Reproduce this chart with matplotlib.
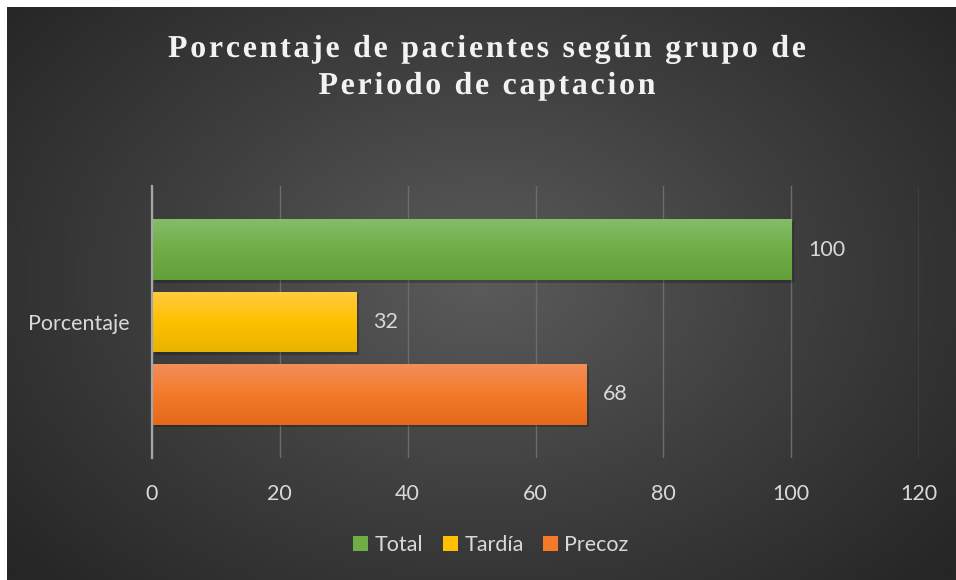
import numpy as np
import matplotlib
matplotlib.use("Agg")
import matplotlib.pyplot as plt
import matplotlib.patheffects as pe
from matplotlib.patches import Patch
from matplotlib.colors import LinearSegmentedColormap

# Datos del grafico
categoria = ["Porcentaje"]
series = ["Total", "Tardía", "Precoz"]
valores = [100, 32, 68]
ticks_x = [0, 20, 40, 60, 80, 100, 120]
titulo = ["Porcentaje de pacientes según grupo de", "Periodo de captacion"]

# colores de degradado (arriba, medio, abajo) por serie
col_arriba = ["#84bd68", "#ffcb40", "#f18e58"]
col_medio = ["#70ad47", "#ffc000", "#f47a2a"]
col_abajo = ["#62a03b", "#e9b300", "#e4681a"]

W, H = 956, 580
texto_gris = "#d9d9d9"
fuente = "Lato"
tam = 15.5

fig = plt.figure(figsize=(W / 100, H / 100), dpi=100)
fig.patch.set_facecolor("white")

# Fondo con degradado radial
bg = fig.add_axes([7 / W, 0, (W - 7) / W, (H - 7) / H])
bg.set_axis_off()
yy, xx = np.mgrid[-1:1:300j, -1:1:500j]
r = np.sqrt((xx * 1.0) ** 2 + ((yy + 0.05) * 0.85) ** 2)
r = np.clip(r / 1.3, 0, 1)
cmap_bg = LinearSegmentedColormap.from_list("bg", ["#5b5b5b", "#3f3f3f", "#262626"])
bg.imshow(r, cmap=cmap_bg, aspect="auto", extent=(0, 1, 0, 1), vmin=0, vmax=1)
bg.set_xlim(0, 1)
bg.set_ylim(0, 1)

# Eje principal
ax = fig.add_axes([152 / W, 1 - 458 / H, (919 - 152) / W, (458 - 186) / H])
ax.patch.set_alpha(0)
ax.set_xlim(0, 120)
ax.set_ylim(-0.5, 0.5)

desplaz = [0.265, 0.0, -0.265]
alto = 0.224
barras = ax.barh(desplaz, valores, height=alto, color=col_medio, zorder=3,
                 path_effects=[pe.SimplePatchShadow(offset=(2, -2), shadow_rgbFace="black", alpha=0.22),
                               pe.Normal()])

# degradado vertical dentro de cada barra
for b, c1, c2, c3 in zip(barras, col_arriba, col_medio, col_abajo):
    cm = LinearSegmentedColormap.from_list("g", [c3, c2, c1])
    grad = np.linspace(0, 1, 100).reshape(-1, 1)
    im = ax.imshow(grad, cmap=cm, aspect="auto", origin="lower", zorder=4,
                   extent=(b.get_x(), b.get_x() + b.get_width(), b.get_y(), b.get_y() + b.get_height()))
    im.set_clip_path(b)

ax.bar_label(barras, labels=[str(v) for v in valores], padding=12, color=texto_gris,
             fontsize=tam, family=fuente)

ax.set_xticks(ticks_x)
ax.set_yticks([0])
ax.set_yticklabels(categoria)
ax.xaxis.grid(True, color="#6c6c6c", lw=1.0, zorder=1)
ax.set_axisbelow(True)
for s in ["top", "right", "bottom"]:
    ax.spines[s].set_visible(False)
ax.spines["left"].set_color("#a6a6a6")
ax.spines["left"].set_linewidth(1.6)
ax.spines["left"].set_zorder(5)
ax.tick_params(axis="both", length=0, colors=texto_gris, labelsize=tam)
ax.tick_params(axis="x", pad=19)
ax.tick_params(axis="y", pad=16)
for t in ax.get_xticklabels() + ax.get_yticklabels():
    t.set_family(fuente)

# Leyenda
handles = [Patch(facecolor=c, edgecolor="none") for c in col_medio]
fig.legend(handles, series, loc="center", bbox_to_anchor=(491 / W, 1 - 545 / H), ncol=3,
           frameon=False, labelcolor=texto_gris, prop={"family": fuente, "size": tam},
           handlelength=0.7, handleheight=0.7, columnspacing=0.9, handletextpad=0.3)


# Titulo con espaciado entre letras
def texto_espaciado(s, xc, y_base, ancho, **kw):
    rend = fig.canvas.get_renderer()
    arts = [fig.text(0, 0, c, ha="left", va="baseline", **kw) for c in s]
    anchos = [a.get_window_extent(rend).width for a in arts]
    gap = (ancho - sum(anchos)) / (len(s) - 1)
    x = xc - ancho / 2
    for a, w in zip(arts, anchos):
        a.set_position((x / W, 1 - y_base / H))
        x += w + gap


estilo = dict(family="Liberation Serif", weight="bold", size=23, color="#f2f2f2",
              path_effects=[pe.SimpleLineShadow(offset=(1.2, -1.2), shadow_color="black", alpha=0.5), pe.Normal()])
texto_espaciado(titulo[0], 487, 57, 638, **estilo)
texto_espaciado(titulo[1], 487, 94, 337, **estilo)

fig.savefig("out.png", dpi=100, facecolor=fig.get_facecolor())
